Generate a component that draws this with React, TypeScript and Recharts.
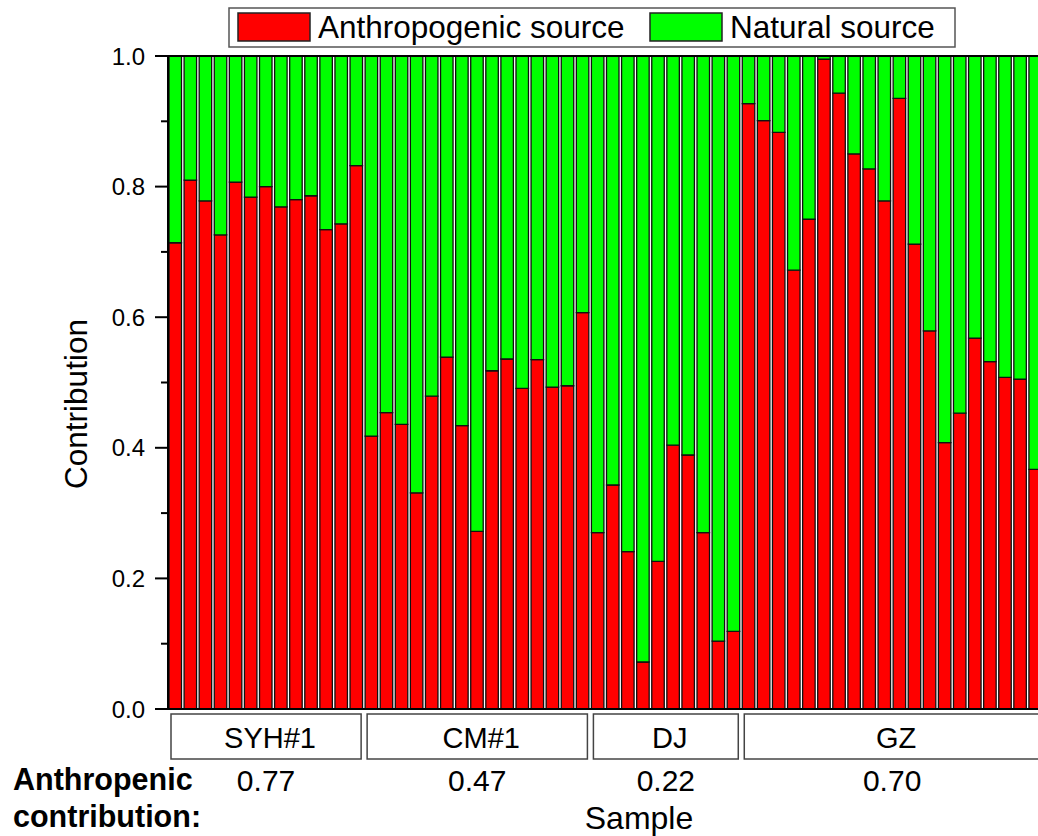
import { BarChart, Bar, XAxis, YAxis, ReferenceLine } from 'recharts';

// anthropogenic share per sample, in sample order (SYH#1, CM#1, DJ, GZ)
const anthropogenic = [
  0.714, 0.81, 0.778, 0.726, 0.807, 0.784, 0.8, 0.769, 0.78, 0.786, 0.734, 0.743, 0.832,
  0.418, 0.454, 0.436, 0.331, 0.479, 0.539, 0.434, 0.272, 0.518, 0.536, 0.491, 0.535, 0.493, 0.495, 0.607,
  0.27, 0.343, 0.241, 0.072, 0.226, 0.404, 0.389, 0.27, 0.104, 0.119,
  0.927, 0.901, 0.883, 0.672, 0.75, 0.995, 0.943, 0.85, 0.827, 0.778, 0.935, 0.712, 0.579, 0.408,
  0.453, 0.568, 0.532, 0.508, 0.505, 0.367,
];

const groupNames = ['SYH#1', 'CM#1', 'DJ', 'GZ'];
const groupSizes = [13, 15, 10, 20];
const groupMeans = ['0.77', '0.47', '0.22', '0.70'];

const yTicks = [0, 0.1, 0.2, 0.3, 0.4, 0.5, 0.6, 0.7, 0.8, 0.9, 1.0];

const rows = anthropogenic.map((a, i) => ({
  id: i + 1,
  anthro: a,
  natural: +(1 - a).toFixed(3),
}));

// layout
const CHART_W = 1060;
const CHART_H = 836;
const PLOT_LEFT = 168;
const PLOT_TOP = 56;
const PLOT_BOTTOM = 709;
const PLOT_RIGHT = 1043;
const BAND = (PLOT_RIGHT - PLOT_LEFT) / rows.length;
const FONT = '"Liberation Sans", Arial, sans-serif';

function ContributionTick({ y, payload }: any) {
  const v = payload.value as number;
  const major = Math.round(v * 10) % 2 === 0;
  return (
    <g>
      <line x1={PLOT_LEFT - (major ? 13 : 7)} x2={PLOT_LEFT} y1={y} y2={y} stroke="#000" strokeWidth={2} />
      {major && (
        <text x={145} y={y} dy="0.36em" textAnchor="end" fontSize={24} fill="#000" fontFamily={FONT}>
          {v.toFixed(1)}
        </text>
      )}
    </g>
  );
}

function Annotations() {
  let start = 0;
  const boxes = groupNames.map((name, g) => {
    const x0 = PLOT_LEFT + start * BAND + 3;
    const x1 = PLOT_LEFT + (start + groupSizes[g]) * BAND - 3;
    start += groupSizes[g];
    return { name, mean: groupMeans[g], x0, x1 };
  });
  return (
    <svg
      width={CHART_W}
      height={CHART_H}
      style={{ position: 'absolute', left: 0, top: 0, pointerEvents: 'none' }}
      fontFamily={FONT}
    >
      {/* legend */}
      <rect x={229} y={8} width={726} height={39} fill="#fff" stroke="#555" strokeWidth={1.5} />
      <rect x={238} y={13} width={72} height={28} fill="#ff0000" stroke="#222" strokeWidth={1.5} />
      <text x={318} y={38} fontSize={31.5} fill="#000">Anthropogenic source</text>
      <rect x={650} y={13} width={72} height={28} fill="#00ff00" stroke="#222" strokeWidth={1.5} />
      <text x={730} y={38} fontSize={31.5} fill="#000">Natural source</text>

      {boxes.map((b) => (
        <g key={b.name}>
          <rect x={b.x0} y={714} width={b.x1 - b.x0} height={45} fill="#fff" stroke="#444" strokeWidth={1.5} />
          <text x={(b.x0 + b.x1) / 2 + 4} y={748} textAnchor="middle" fontSize={29} fill="#000">
            {b.name}
          </text>
          <text x={(b.x0 + b.x1) / 2} y={791} textAnchor="middle" fontSize={30} fill="#000">
            {b.mean}
          </text>
        </g>
      ))}

      <text x={13} y={790} fontSize={30.5} fontWeight="bold" fill="#000">Anthropenic</text>
      <text x={13} y={827} fontSize={30.5} fontWeight="bold" fill="#000">contribution:</text>
      <text x={639} y={829} textAnchor="middle" fontSize={32} fill="#000">Sample</text>
      <text x={87} y={404} textAnchor="middle" fontSize={31.5} fill="#000" transform="rotate(-90 87 404)">
        Contribution
      </text>
    </svg>
  );
}

export default function App() {
  return (
    <div
      style={{
        position: 'absolute',
        left: 0,
        top: 0,
        width: 1038,
        height: 836,
        overflow: 'hidden',
        background: '#fff',
      }}
    >
      <BarChart
        width={CHART_W}
        height={CHART_H}
        data={rows}
        margin={{ top: PLOT_TOP, right: CHART_W - PLOT_RIGHT, left: 0, bottom: CHART_H - PLOT_BOTTOM }}
        barSize={12.5}
      >
        <XAxis dataKey="id" hide />
        <YAxis
          width={PLOT_LEFT}
          domain={[0, 1]}
          ticks={yTicks}
          interval={0}
          tick={<ContributionTick />}
          tickLine={false}
          axisLine={{ stroke: '#000', strokeWidth: 2 }}
        />
        <Bar dataKey="anthro" stackId="s" fill="#ff0000" stroke="#111" strokeWidth={1.3} isAnimationActive={false} />
        <Bar dataKey="natural" stackId="s" fill="#00ff00" stroke="#111" strokeWidth={1.3} isAnimationActive={false} />
        <ReferenceLine y={1} stroke="#000" strokeWidth={2} />
        <ReferenceLine y={0} stroke="#000" strokeWidth={2} />
      </BarChart>
      <Annotations />
    </div>
  );
}
